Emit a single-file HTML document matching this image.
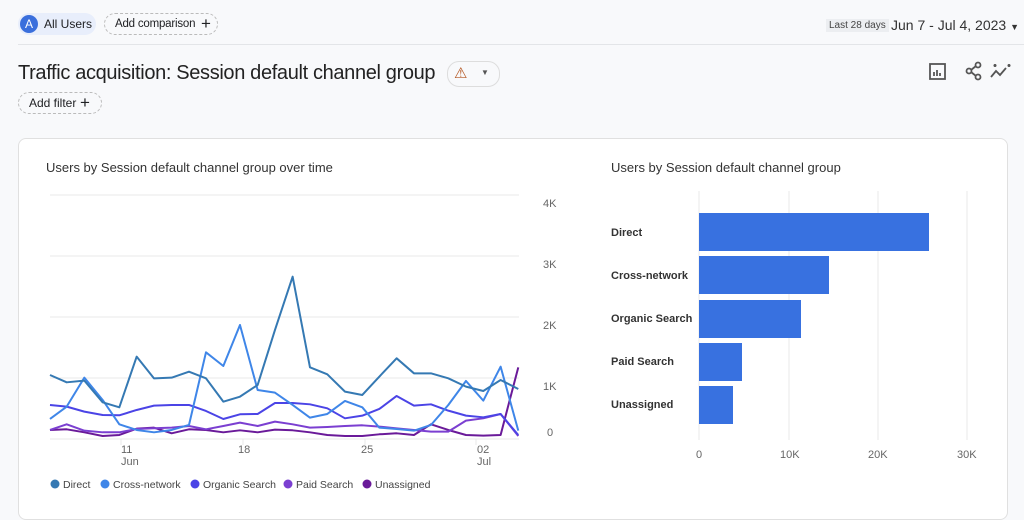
<!DOCTYPE html>
<html><head><meta charset="utf-8"><style>
body{margin:0;width:1024px;height:508px;background:#f8f9fb;font-family:"Liberation Sans",sans-serif;position:relative;overflow:hidden;color:#202124}
.a{position:absolute}
.chip{position:absolute;border-radius:12px;font-size:12px;line-height:22px;height:22px}
</style></head><body>
<div class="chip" style="left:18px;top:13px;width:78px;background:#e8eefb"><span class="a" style="left:2px;top:2px;width:18px;height:18px;border-radius:9px;background:#3a6fdc;color:#fff;text-align:center;line-height:18px;font-size:12px">A</span><span class="a" style="left:26px;top:0">All Users</span></div>
<div class="chip" style="left:104px;top:13px;width:112px;border:1px dashed #bbb;height:20px;line-height:20px;font-size:11.5px"><span class="a" style="left:10px;letter-spacing:-0.2px">Add comparison</span><span class="a" style="left:96px;font-size:17px">+</span></div>
<div class="a" style="left:826px;top:19px;background:#eceef1;font-size:10px;padding:1px 3px;color:#444">Last 28 days</div>
<div class="a" style="left:891px;top:17px;font-size:14px;color:#333">Jun 7 - Jul 4, 2023 <span style="font-size:9px">▼</span></div>
<div class="a" style="left:18px;top:44px;width:1006px;height:1px;background:#e3e5e8"></div>
<div class="a" style="left:18px;top:62px;font-size:20px;color:#222;letter-spacing:-0.35px">Traffic acquisition: Session default channel group</div>
<div class="a" style="left:447px;top:61px;width:51px;height:24px;border:1px solid #ddd;border-radius:12px;background:#f8f9fb"><span class="a" style="left:6px;top:2px;color:#b3541e;font-size:15px">⚠</span><span class="a" style="left:33px;top:6px;font-size:8px;color:#555">▼</span></div>
<div class="chip" style="left:18px;top:92px;width:82px;border:1px dashed #bbb;height:20px;line-height:20px"><span class="a" style="left:10px">Add filter</span><span class="a" style="left:61px;font-size:17px">+</span></div>
<svg class="a" style="left:925px;top:60px" width="90" height="24" viewBox="0 0 90 24" fill="none" stroke="#555" stroke-width="1.8">
<rect x="5" y="4" width="15" height="15"/><path d="M9 16v-4M12 16v-6M15 16v-3"/>
<circle cx="53" cy="5" r="2.5"/><circle cx="44" cy="11" r="2.5"/><circle cx="53" cy="17" r="2.5"/><path d="M46 10l5-4M46 12l5 4"/>
<path d="M66 17l5-6 4 4 6-7"/><path d="M70 4v3M68.5 5.5h3M84 4v3M82.5 5.5h3"/></svg>
<div class="a" style="left:18px;top:138px;width:988px;height:380px;background:#fff;border:1px solid #e0e0e0;border-radius:8px"></div>
<div class="a" style="left:46px;top:160px;font-size:13px;color:#333">Users by Session default channel group over time</div>
<div class="a" style="left:611px;top:160px;font-size:13px;color:#333">Users by Session default channel group</div>
<svg class="a" style="left:0;top:0" width="1024" height="508">
<g stroke="#e8e8e8" stroke-width="1">
<line x1="50" y1="195" x2="519" y2="195"/><line x1="50" y1="256" x2="519" y2="256"/><line x1="50" y1="317" x2="519" y2="317"/><line x1="50" y1="378" x2="519" y2="378"/><line x1="50" y1="439" x2="519" y2="439"/>
<line x1="121" y1="439" x2="121" y2="445"/><line x1="243" y1="439" x2="243" y2="445"/><line x1="365" y1="439" x2="365" y2="445"/><line x1="476" y1="439" x2="476" y2="445"/>
<line x1="699" y1="191" x2="699" y2="440"/><line x1="789" y1="191" x2="789" y2="440"/><line x1="878" y1="191" x2="878" y2="440"/><line x1="967" y1="191" x2="967" y2="440"/>
</g>
<g font-size="11" fill="#666" font-family="Liberation Sans,sans-serif">
<text x="543" y="207">4K</text><text x="543" y="268">3K</text><text x="543" y="329">2K</text><text x="543" y="390">1K</text><text x="547" y="436">0</text>
<text x="121" y="453">11</text><text x="121" y="465">Jun</text><text x="238" y="453">18</text><text x="361" y="453">25</text><text x="477" y="453">02</text><text x="477" y="465">Jul</text>
<text x="696" y="458">0</text><text x="780" y="458">10K</text><text x="868" y="458">20K</text><text x="957" y="458">30K</text>
</g>
<g font-size="11" fill="#333" font-weight="bold" font-family="Liberation Sans,sans-serif">
<text x="611" y="236">Direct</text><text x="611" y="279">Cross-network</text><text x="611" y="322">Organic Search</text><text x="611" y="365">Paid Search</text><text x="611" y="408">Unassigned</text>
</g>
<g fill="#3871e0">
<rect x="699" y="213" width="230" height="38"/><rect x="699" y="256" width="130" height="38"/><rect x="699" y="300" width="102" height="38"/><rect x="699" y="343" width="43" height="38"/><rect x="699" y="386" width="34" height="38"/>
</g>
<g transform="translate(30,190) scale(0.3333)" fill="none" stroke-width="6" stroke-linejoin="round">
<polyline stroke="#6a1a99" points="60,720 110,718 163,727 218,738 268,735 320,716 372,713 425,730 477,718 528,720 580,727 630,721 683,727 735,719 788,721 840,727 892,735 945,738 997,738 1048,733 1100,730 1152,735 1203,703 1255,720 1308,735 1360,737 1412,735 1465,532"/>
<polyline stroke="#7b3fd1" points="60,720 110,703 163,722 218,727 268,727 320,717 372,715 425,713 477,708 528,718 580,708 630,698 683,708 735,695 788,703 840,713 892,711 945,708 997,706 1048,710 1100,715 1152,720 1203,725 1255,725 1308,692 1360,685 1412,672 1465,738"/>
<polyline stroke="#4b44e6" points="60,645 110,650 163,665 218,675 268,676 320,660 372,647 425,645 477,645 528,663 580,687 630,673 683,672 735,639 788,639 840,643 892,655 945,685 997,677 1048,657 1100,618 1152,647 1203,643 1255,662 1308,677 1360,682 1412,672 1465,735"/>
<polyline stroke="#3f86e8" points="60,687 110,650 163,563 218,630 268,703 320,720 372,727 425,720 477,705 528,487 580,528 630,405 683,600 735,608 788,645 840,683 892,672 945,633 997,652 1048,713 1100,717 1152,722 1203,705 1255,645 1308,573 1360,632 1412,530 1465,722"/>
<polyline stroke="#3579b3" points="60,555 110,577 163,572 218,637 268,652 320,500 372,565 425,563 477,545 528,565 580,635 630,620 683,585 735,420 788,260 840,532 892,553 945,605 997,615 1048,560 1100,505 1152,550 1203,550 1255,565 1308,590 1360,603 1412,570 1465,597"/>
</g>
<g font-size="10.5" fill="#444" font-family="Liberation Sans,sans-serif">
<circle cx="55" cy="484" r="4.5" fill="#3579b3"/><text x="63" y="488">Direct</text>
<circle cx="105" cy="484" r="4.5" fill="#3f86e8"/><text x="113" y="488">Cross-network</text>
<circle cx="195" cy="484" r="4.5" fill="#4b44e6"/><text x="203" y="488">Organic Search</text>
<circle cx="288" cy="484" r="4.5" fill="#7b3fd1"/><text x="296" y="488">Paid Search</text>
<circle cx="367" cy="484" r="4.5" fill="#6a1a99"/><text x="375" y="488">Unassigned</text>
</g>
</svg>
</body></html>
